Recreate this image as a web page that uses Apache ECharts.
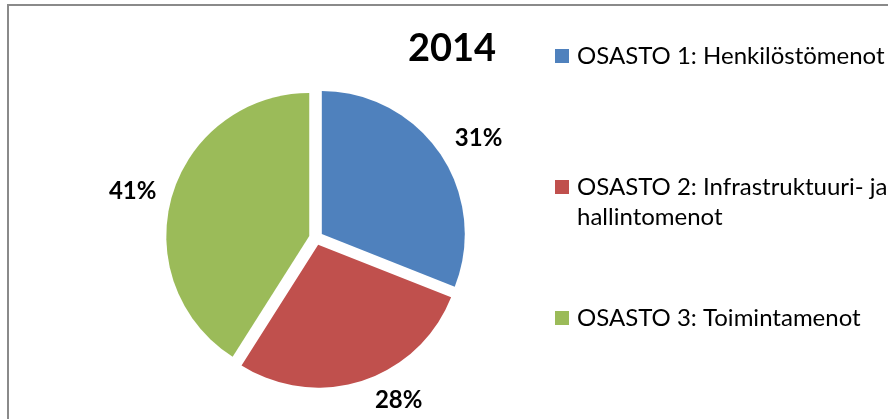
<!DOCTYPE html>
<html>
<head>
<meta charset="utf-8">
<script src="https://cdn.jsdelivr.net/npm/echarts@6/dist/echarts.min.js"></script>
<style>
  html, body { margin: 0; padding: 0; background: #fff; }
  #chart { width: 888px; height: 419px; }
</style>
</head>
<body>
<div id="chart"></div>
<script>
var titleText = '2014';
var categories = ['OSASTO 1: Henkilöstömenot', 'OSASTO 2: Infrastruktuuri- ja\nhallintomenot', 'OSASTO 3: Toimintamenot'];
var shares = [31, 28, 41];
var colors = ['#4F81BD', '#C0504D', '#9BBB59'];

// small nudges so the percent labels sit where Excel put them
var labelNudge = [[3, 9], [23, -21], [2, 7]];

var font = 'Lato, "Open Sans", "Liberation Sans", sans-serif';
var chart = echarts.init(document.getElementById('chart'));

var pieData = categories.map(function (name, i) {
  return { name: name, value: shares[i], selected: true, itemStyle: { color: colors[i] } };
});
var labelData = categories.map(function (name, i) {
  return { name: name, value: shares[i], label: { offset: labelNudge[i] } };
});

function legendFor(i, top, leadBlank) {
  return {
    data: [categories[i]],
    orient: 'vertical',
    left: 555,
    top: top,
    padding: 0,
    icon: 'rect',
    itemWidth: 14,
    itemHeight: 14,
    selectedMode: false,
    // a blank first line keeps the square level with the first text line
    formatter: function (name) { return leadBlank ? '\n' + name : name; },
    textStyle: {
      fontFamily: font,
      fontSize: 24,
      lineHeight: 30,
      color: '#000',
      padding: [0, 0, 0, 3]
    }
  };
}

var option = {
  backgroundColor: '#fff',
  animation: false,
  color: colors,
  title: {
    text: titleText,
    left: 408,
    top: 30,
    padding: 0,
    textStyle: { fontFamily: font, fontSize: 38, fontWeight: 'bold', color: '#000' }
  },
  legend: [legendFor(0, 41, false), legendFor(1, 142, true), legendFor(2, 303, false)],
  graphic: [{
    type: 'rect',
    shape: { x: 8, y: 5, width: 900, height: 500 },
    style: { fill: 'none', stroke: '#8a8a8a', lineWidth: 2 },
    silent: true
  }],
  series: [
    {
      name: 'osastot',
      type: 'pie',
      center: [316, 238],
      radius: 143,
      startAngle: 90,
      clockwise: true,
      selectedMode: 'multiple',
      selectedOffset: 7,
      label: { show: false },
      labelLine: { show: false },
      emphasis: { disabled: true },
      data: pieData
    },
    {
      name: 'labels',
      type: 'pie',
      center: [316, 238],
      radius: [180, 200],
      startAngle: 90,
      clockwise: true,
      silent: true,
      itemStyle: { color: 'rgba(0,0,0,0)' },
      label: {
        show: true,
        position: 'inside',
        formatter: '{c}%',
        fontFamily: font,
        fontSize: 24,
        fontWeight: 'bold',
        color: '#000'
      },
      labelLine: { show: false },
      emphasis: { disabled: true },
      data: labelData
    }
  ]
};

chart.setOption(option);
</script>
</body>
</html>
